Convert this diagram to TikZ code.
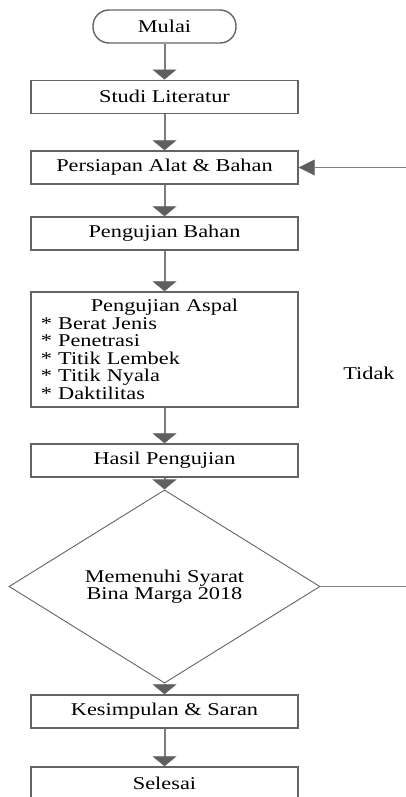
\documentclass[tikz,border=0pt]{standalone}
\usepackage{fontspec}
\setmainfont{Liberation Serif}[FakeStretch=1.24]
\usetikzlibrary{arrows.meta,shapes.geometric}
\definecolor{linegray}{RGB}{125,125,125}
\definecolor{boxgray}{RGB}{100,100,100}
\definecolor{tipgray}{RGB}{95,95,95}
\tikzset{
  x=1pt, y=1pt,
  txt/.style={font=\fontsize{18}{17.5}\selectfont, text=black},
  stepbox/.style={draw=boxgray, line width=1.4pt, fill=white, minimum width=267pt, minimum height=33pt, inner sep=0pt, txt},
  termbox/.style={draw=boxgray, line width=1.4pt, fill=white, rounded corners=16pt, minimum width=143pt, minimum height=33pt, inner sep=0pt, txt},
  decbox/.style={draw=boxgray, line width=0.9pt, diamond, minimum width=311pt, minimum height=143pt, inner sep=0pt, align=center, txt},
  conn/.style={draw=linegray, line width=2pt, -{Triangle[width=24pt,length=10pt,fill=tipgray,color=boxgray,line width=0.8pt]}},
  connh/.style={draw=linegray, line width=1.2pt, -{Triangle[width=16pt,length=16pt,fill=tipgray,color=boxgray,line width=0.8pt]}},
  plain/.style={draw=linegray, line width=1.2pt},
}
\begin{document}
\begin{tikzpicture}
\useasboundingbox (0,0) rectangle (406,-797);
\node[termbox] (mulai) at (164.5,-26.5) {Mulai};
\node[stepbox] (studi) at (164.5,-96.75) {Studi Literatur};
\node[stepbox] (persiapan) at (164.5,-167.5) {Persiapan Alat \& Bahan};
\node[stepbox] (bahan) at (164.5,-233.5) {Pengujian Bahan};
\node[stepbox, minimum height=115pt, text width=247pt, align=left] (aspal) at (164.5,-349.5)
  {\makebox[247pt][c]{Pengujian Aspal}\\{*} Berat Jenis\\{*} Penetrasi\\{*} Titik Lembek\\{*} Titik Nyala\\{*} Daktilitas};
\node[stepbox] (hasil) at (164.5,-460.5) {Hasil Pengujian};
\node[decbox] (syarat) at (164.5,-586.5) {Memenuhi Syarat\\Bina Marga 2018};
\node[txt] (tidak) at (369,-373) {Tidak};
\node[stepbox] (kesimpulan) at (164.5,-711.5) {Kesimpulan \& Saran};
\node[stepbox] (selesai) at (164.5,-783.5) {Selesai};
\coordinate (r1) at (406,-167.5);
\coordinate (r2) at (406,-586.5);
\draw[conn] (mulai) -- (studi);
\draw[conn] (studi) -- (persiapan);
\draw[conn] (persiapan) -- (bahan);
\draw[conn] (bahan) -- (aspal);
\draw[conn] (aspal) -- (hasil);
\draw[conn] (hasil) -- (syarat);
\draw[conn] (syarat) -- (kesimpulan);
\draw[conn] (kesimpulan) -- (selesai);
\draw[connh] (r1) -- (persiapan);
\draw[plain] (syarat.east) -- (r2);
\end{tikzpicture}
\end{document}
